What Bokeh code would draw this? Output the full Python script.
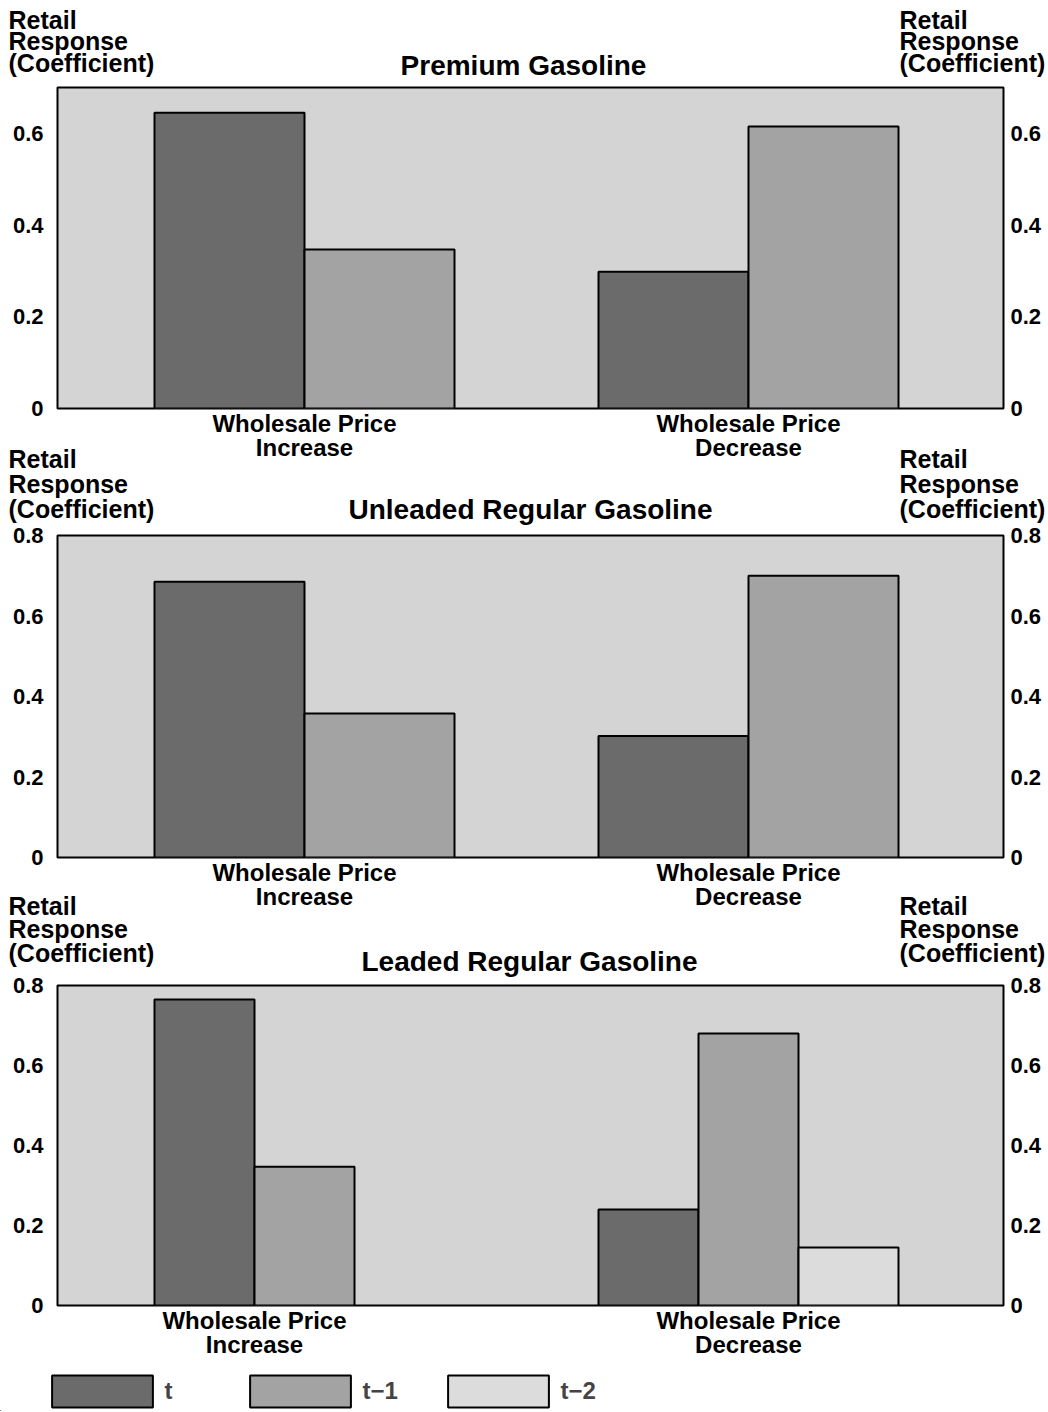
from bokeh.plotting import figure
from bokeh.models import (Range1d, FixedTicker, LinearAxis, Label, ColumnDataSource,
                          Legend, LegendItem)
from bokeh.layouts import column
from bokeh.embed import file_html
from bokeh.resources import INLINE

# ---------------- data ----------------
categories = ["Wholesale Price\nIncrease", "Wholesale Price\nDecrease"]
series_names = ["t", "t\u22121", "t\u22122"]
panel_titles = ["Premium Gasoline", "Unleaded Regular Gasoline", "Leaded Regular Gasoline"]
axis_title_lines = ["Retail", "Response", "(Coefficient)"]

premium_t = [0.645, 0.298]
premium_t1 = [0.347, 0.615]

unleaded_t = [0.685, 0.302]
unleaded_t1 = [0.358, 0.700]

leaded_t = [0.765, 0.240]
leaded_t1 = [0.347, 0.680]
leaded_t2 = [None, 0.145]

premium_ticks = [0, 0.2, 0.4, 0.6]
regular_ticks = [0, 0.2, 0.4, 0.6, 0.8]
tick_text = {0: "0", 0.2: "0.2", 0.4: "0.4", 0.6: "0.6", 0.8: "0.8"}

# ---------------- style / layout ----------------
FONT = "Liberation Sans"
BG = "#d4d4d4"
FILLS = ["#6b6b6b", "#a3a3a3", "#dcdcdc"]
X0, X1 = 0.0, 9.46
GROUP_START = [0.97, 5.41]
FIG_W = 1048
B_LEFT, B_RIGHT = 57, 45


def style_axis(ax, size="22px"):
    ax.axis_line_color = None
    ax.major_tick_line_color = None
    ax.minor_tick_line_color = None
    ax.major_tick_out = 0
    ax.major_tick_in = 0
    ax.major_label_text_font = FONT
    ax.major_label_text_font_style = "bold"
    ax.major_label_text_font_size = size
    ax.major_label_text_color = "black"


def blank_fig(h, mtop=0, xr=None, yr=None):
    p = figure(width=FIG_W, height=h,
               x_range=xr if xr is not None else Range1d(0, FIG_W),
               y_range=yr if yr is not None else Range1d(h, 0),
               x_axis_type=None, y_axis_type=None, output_backend="svg",
               toolbar_location=None, title=None, min_border=0,
               background_fill_color=None, border_fill_color=None,
               outline_line_color=None, margin=(mtop, 0, 0, 0), frame_align=False)
    return p


def header_fig(title, h, mtop, baselines, title_x, title_base):
    p = blank_fig(h, mtop)
    for i, line in enumerate(axis_title_lines):
        for x in (8, 899):
            p.add_layout(Label(x=x, y=baselines[i], text=line, text_font=FONT,
                               text_font_style="bold", text_font_size="25px",
                               text_align="left", text_baseline="alphabetic",
                               text_color="black"))
    p.add_layout(Label(x=title_x, y=title_base, text=title, text_font=FONT,
                       text_font_style="bold", text_font_size="28px",
                       text_align="center", text_baseline="alphabetic",
                       text_color="black"))
    return p


def make_panel(series_vals, ymax, ticks, bar_w, frame_h):
    top, bottom = 12, 56
    p = figure(width=FIG_W, height=top + frame_h + bottom,
               x_range=Range1d(X0, X1), y_range=Range1d(0, ymax),
               output_backend="svg", toolbar_location=None, title=None,
               min_border_left=B_LEFT, min_border_right=B_RIGHT,
               min_border_top=top, min_border_bottom=bottom,
               background_fill_color=BG, border_fill_color=None,
               outline_line_color="black", outline_line_width=2, frame_align=False,
               margin=(-10, 0, 0, 0))
    p.grid.visible = False

    renderers = []
    for k, vals in enumerate(series_vals):
        xs, tops = [], []
        for g, v in enumerate(vals):
            if v is None:
                continue
            xs.append(GROUP_START[g] + (k + 0.5) * bar_w)
            tops.append(v)
        src = ColumnDataSource(dict(x=xs, top=tops))
        r = p.vbar(x="x", top="top", bottom=0, width=bar_w, source=src,
                   fill_color=FILLS[k], line_color="black", line_width=2)
        renderers.append(r)

    centers = []
    for g in range(len(categories)):
        n = sum(1 for vals in series_vals if vals[g] is not None)
        centers.append(GROUP_START[g] + n * bar_w / 2)

    yl = p.yaxis[0]
    yl.ticker = FixedTicker(ticks=ticks)
    yl.major_label_overrides = {t: tick_text[t] for t in ticks}
    style_axis(yl)
    yl.major_label_standoff = 14

    yr = LinearAxis(ticker=FixedTicker(ticks=ticks),
                    major_label_overrides={t: tick_text[t] for t in ticks})
    style_axis(yr)
    yr.major_label_standoff = 7
    p.add_layout(yr, "right")

    xa = p.xaxis[0]
    xa.ticker = FixedTicker(ticks=centers)
    xa.major_label_overrides = {c: cat for c, cat in zip(centers, categories)}
    style_axis(xa, "24px")
    xa.major_label_text_line_height = 0.92
    xa.major_label_standoff = 1
    return p


h1 = header_fig(panel_titles[0], 85, 0, [19, 40.5, 62], 523, 65)
p1 = make_panel([premium_t, premium_t1], 0.7, premium_ticks, 1.5, 321)
h2 = header_fig(panel_titles[1], 89, -20, [14, 39, 64], 530, 65)
p2 = make_panel([unleaded_t, unleaded_t1], 0.8, regular_ticks, 1.5, 322)
h3 = header_fig(panel_titles[2], 91, -21, [13, 36, 60], 529, 69)
p3 = make_panel([leaded_t, leaded_t1, leaded_t2], 0.8, regular_ticks, 1.0, 320)

# legend strip (swatch renderers sit outside the visible range; only their legend entries show)
lg = blank_fig(50, 0, Range1d(0, 1), Range1d(0, 1))
swatches = []
for k in range(len(series_names)):
    swatches.append(lg.vbar(x=[-5.0], top=[-5.0], bottom=-6.0, width=0.1,
                            fill_color=FILLS[k], line_color="black", line_width=2))
legend = Legend(items=[LegendItem(label=n, renderers=[r]) for n, r in zip(series_names, swatches)],
                location=(38.5, 0), orientation="horizontal",
                glyph_width=126, glyph_height=40, label_height=40,
                label_standoff=0, label_width=72, spacing=0, padding=0, margin=0,
                border_line_color=None, background_fill_alpha=0,
                label_text_font=FONT, label_text_font_style="bold",
                label_text_font_size="24px")
lg.add_layout(legend)

layout = column(h1, p1, h2, p2, h3, p3, lg, spacing=0)
open("out.html", "w").write(file_html(layout, INLINE))
